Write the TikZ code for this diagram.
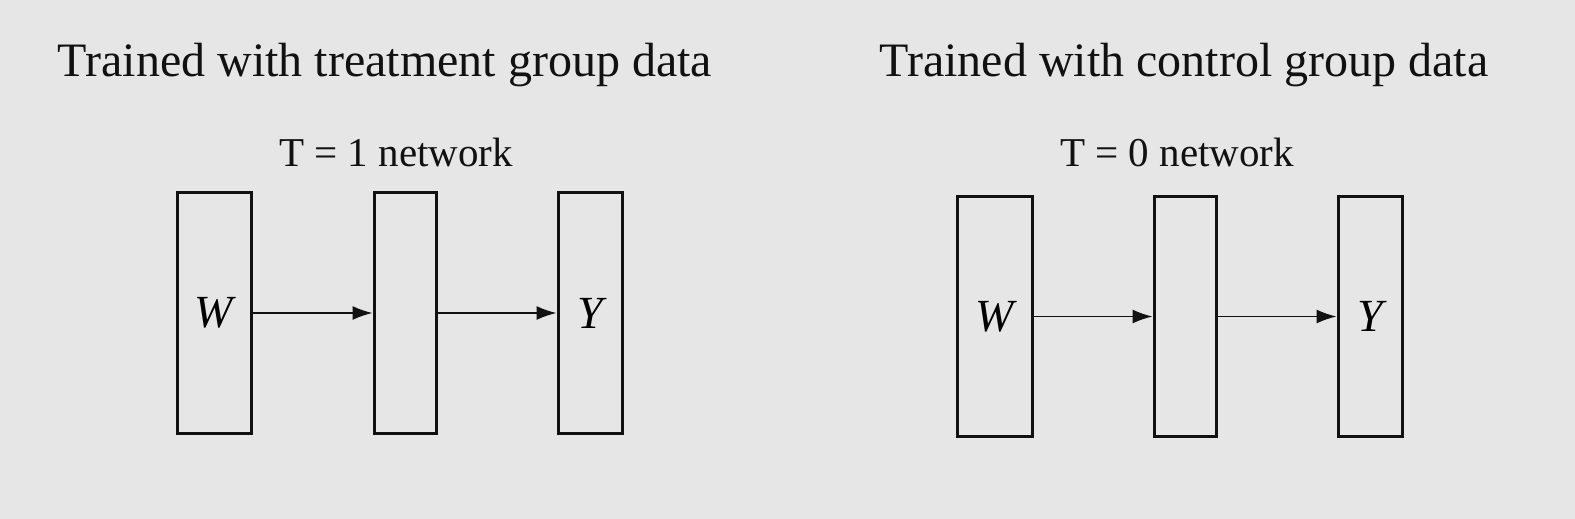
\documentclass[tikz,border=0pt]{standalone}
\usepackage{fontspec}
\setmainfont{Liberation Serif}
\usepackage{tikz}
\usetikzlibrary{arrows.meta,positioning}
\usepackage{xcolor}
\definecolor{SlideBack}{HTML}{E6E6E6}
\definecolor{SlideInk}{HTML}{111111}
\tikzset{
  netbox/.style={draw=SlideInk,line width=1.5pt,fill=none,inner sep=0pt,minimum height=120pt,font=\fontsize{23}{27}\selectfont\itshape},
  flowarrow/.style={-{Latex[length=10pt,width=7pt]},line width=0.75pt,draw=SlideInk},
  headline/.style={anchor=base,inner sep=0pt,text=SlideInk,font=\fontsize{24}{29}\selectfont},
  subhead/.style={anchor=base,inner sep=0pt,text=SlideInk,font=\fontsize{20.5}{25}\selectfont}
}
\begin{document}
\begin{tikzpicture}[x=0.5pt,y=-0.5pt]
  \fill[SlideBack] (0,0) rectangle (1575,519);
  \useasboundingbox (0,0) rectangle (1575,519);

  % treatment side
  \node[headline] (treattitle) at (385,77) {Trained with treatment group data};
  \node[subhead] (treatnet) at (396,167) {T = 1 network};
  \node[netbox,minimum width=37pt] (tw) at (214,313) {W};
  \node[netbox,minimum width=31pt] (th) at (405,313) {};
  \node[netbox,minimum width=32pt] (ty) at (590,313) {Y};
  \draw[flowarrow] (tw) -- (th);
  \draw[flowarrow] (th) -- (ty);

  % control side
  \node[headline] (ctrltitle) at (1184,77) {Trained with control group data};
  \node[subhead] (ctrlnet) at (1177,167) {T = 0 network};
  \node[netbox,minimum width=37.5pt] (cw) at (994.5,316.5) {W};
  \node[netbox,minimum width=31pt] (ch) at (1185,316.5) {};
  \node[netbox,minimum width=32pt] (cy) at (1370,316.5) {Y};
  \draw[flowarrow] (cw) -- (ch);
  \draw[flowarrow] (ch) -- (cy);
\end{tikzpicture}
\end{document}
